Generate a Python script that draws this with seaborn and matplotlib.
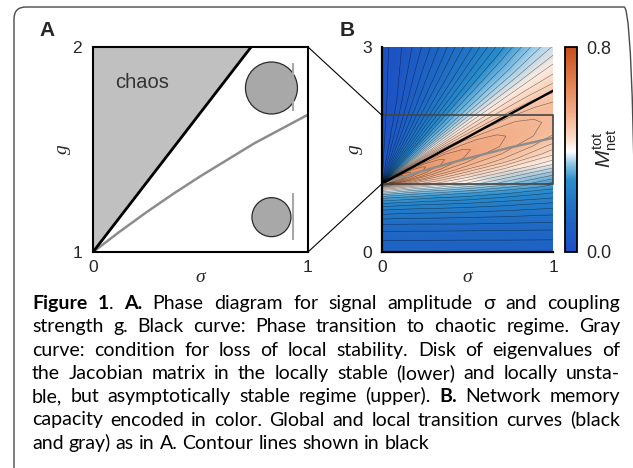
import numpy as np
import matplotlib
matplotlib.use("Agg")
import matplotlib.pyplot as plt
import seaborn as sns
from matplotlib.colors import LinearSegmentedColormap
from matplotlib.patches import Rectangle, FancyBboxPatch, ConnectionPatch
from matplotlib.transforms import IdentityTransform

# transition curves (sigma, g)
black_sigma = [0.0, 0.25, 0.5, 0.75, 1.0]
black_g = [1.0, 1.34, 1.68, 2.02, 2.36]
gray_sigma = [0.0, 0.125, 0.25, 0.375, 0.5, 0.625, 0.75, 0.875, 1.0]
gray_g = [1.0, 1.10, 1.195, 1.285, 1.37, 1.45, 1.53, 1.60, 1.67]

# eigenvalue disks in panel A: centre (sigma, g), radius in px, and the Re = 1 bars
disk_sigma = [0.83, 0.83]
disk_g = [1.80, 1.17]
disk_radius = [26, 19.5]
bar_sigma = [0.932, 0.930]
bar_low = [1.69, 1.06]
bar_high = [1.92, 1.29]

# memory capacity in panel B
# above g = 1: read along rays leaving (sigma=0, g=1); angle in degrees as drawn,
# radius in units of the panel width
mem_radius = [0, 0.03, 0.08, 0.18, 0.32, 0.5, 0.72, 1.0, 1.35]
upper_angle = [0, 7, 10.5, 14, 17.5, 21, 23, 25, 27.5, 30, 35, 41, 48, 56, 64, 72, 80, 90]
upper_values = [
    [0.68, 0.61, 0.54, 0.47, 0.435, 0.395, 0.347, 0.293, 0.24],    # 0  (g = 1)
    [0.74, 0.67, 0.60, 0.54, 0.50, 0.47, 0.44, 0.41, 0.39],        # 7
    [0.755, 0.675, 0.615, 0.575, 0.535, 0.51, 0.49, 0.453, 0.433],# 10.5
    [0.78, 0.70, 0.64, 0.60, 0.565, 0.54, 0.52, 0.49, 0.47],       # 14
    [0.795, 0.715, 0.655, 0.615, 0.585, 0.56, 0.54, 0.513, 0.493], # 17.5
    [0.80, 0.72, 0.66, 0.62, 0.59, 0.565, 0.545, 0.52, 0.50],      # 21
    [0.79, 0.715, 0.655, 0.615, 0.585, 0.561, 0.541, 0.517, 0.497],# 23
    [0.76, 0.70, 0.64, 0.60, 0.57, 0.55, 0.53, 0.51, 0.49],        # 25
    [0.69, 0.665, 0.607, 0.567, 0.537, 0.525, 0.505, 0.494, 0.474],# 27.5
    [0.60, 0.58, 0.56, 0.53, 0.51, 0.49, 0.48, 0.47, 0.46],        # 30
    [0.46, 0.45, 0.44, 0.43, 0.42, 0.42, 0.42, 0.42, 0.42],        # 35
    [0.35, 0.35, 0.345, 0.34, 0.34, 0.34, 0.345, 0.35, 0.36],      # 41
    [0.26, 0.26, 0.26, 0.26, 0.265, 0.27, 0.275, 0.28, 0.29],      # 48
    [0.19, 0.19, 0.19, 0.19, 0.19, 0.195, 0.20, 0.205, 0.21],      # 56
    [0.13, 0.13, 0.13, 0.13, 0.13, 0.135, 0.14, 0.145, 0.15],      # 64
    [0.08, 0.08, 0.08, 0.08, 0.08, 0.085, 0.09, 0.09, 0.10],       # 72
    [0.04, 0.04, 0.04, 0.04, 0.04, 0.04, 0.045, 0.05, 0.05],       # 80
    [0.01, 0.01, 0.01, 0.01, 0.01, 0.01, 0.01, 0.01, 0.01],        # 90
]
# below g = 1: rows of g, columns at sigma = mem_radius
lower_g = [0.98, 0.95, 0.9, 0.85, 0.8, 0.7, 0.6, 0.5, 0.4, 0.3, 0.2, 0.1, 0.0]
lower_values = [
    [0.56, 0.52, 0.485, 0.445, 0.41, 0.377, 0.341, 0.298, 0.259],
    [0.47, 0.455, 0.44, 0.405, 0.382, 0.355, 0.323, 0.29, 0.251],
    [0.40, 0.391, 0.382, 0.359, 0.341, 0.323, 0.298, 0.271, 0.243],
    [0.35, 0.346, 0.337, 0.323, 0.31, 0.294, 0.279, 0.255, 0.235],
    [0.31, 0.306, 0.302, 0.294, 0.283, 0.275, 0.259, 0.243, 0.223],
    [0.255, 0.253, 0.25, 0.245, 0.241, 0.235, 0.226, 0.214, 0.204],
    [0.215, 0.214, 0.212, 0.209, 0.207, 0.204, 0.199, 0.191, 0.184],
    [0.185, 0.184, 0.183, 0.182, 0.181, 0.179, 0.176, 0.172, 0.167],
    [0.16, 0.16, 0.159, 0.158, 0.158, 0.158, 0.156, 0.154, 0.151],
    [0.14, 0.14, 0.14, 0.139, 0.139, 0.138, 0.137, 0.136, 0.136],
    [0.125, 0.125, 0.125, 0.125, 0.124, 0.124, 0.124, 0.123, 0.123],
    [0.11, 0.11, 0.11, 0.11, 0.11, 0.109, 0.109, 0.109, 0.109],
    [0.102, 0.102, 0.102, 0.102, 0.102, 0.102, 0.102, 0.102, 0.102],
]
cbar_ticks = [0.0, 0.8]
cbar_labels = ["0.0", "0.8"]

caption = [
    [("Figure 1", "bold"), (". ", "normal"), ("A.", "bold"),
     (" Phase diagram for signal amplitude σ and coupling", "normal")],
    [("strength g. Black curve: Phase transition to chaotic regime. Gray", "normal")],
    [("curve: condition for loss of local stability. Disk of eigenvalues of", "normal")],
    [("the Jacobian matrix in the locally stable (lower) and locally unsta-", "normal")],
    [("ble, but asymptotically stable regime (upper). ", "normal"), ("B.", "bold"),
     (" Network memory", "normal")],
    [("capacity encoded in color. Global and local transition curves (black", "normal")],
    [("and gray) as in A. Contour lines shown in black", "normal")],
]

W, H = 633, 468
sns.set_style("white")
plt.rcParams["font.family"] = ["Liberation Sans", "DejaVu Sans"]
plt.rcParams["mathtext.fontset"] = "custom"
plt.rcParams["mathtext.rm"] = "Liberation Sans"
plt.rcParams["mathtext.it"] = "Liberation Sans:italic"

fig = plt.figure(figsize=(W / 100, H / 100), dpi=100)
serif = dict(family=["Liberation Serif", "DejaVu Serif"], style="italic", fontsize=14)


def px_axes(left, top, right, bottom):
    return fig.add_axes([left / W, 1 - bottom / H, (right - left) / W, (bottom - top) / H])


# ---- panel A
axA = px_axes(93, 47, 308, 252)
axA.fill_between(black_sigma, black_g, 3, color="#c0c0c0", lw=0)
sns.lineplot(x=gray_sigma, y=gray_g, ax=axA, color="#8c8c8c", lw=1.8)
sns.lineplot(x=black_sigma, y=black_g, ax=axA, color="black", lw=2.0)
axA.scatter(disk_sigma, disk_g, s=[(1.44 * r) ** 2 for r in disk_radius],
            color="#a8a8a8", edgecolors="#2a2a2a", linewidths=0.9, zorder=4)
axA.vlines(bar_sigma, bar_low, bar_high, color="#a8a8a8", lw=1.5, zorder=4)
axA.text(0.102, 0.829, "chaos", transform=axA.transAxes, fontsize=14.5,
         color="#333333", ha="left", va="center")
axA.set_xlim(0, 1)
axA.set_ylim(1, 2)
axA.set_xticks([0, 0.5, 1])
axA.set_xticklabels(["0", "", "1"])
axA.set_yticks([1, 2])
axA.set_yticklabels(["1", "2"])
axA.tick_params(direction="in", length=4, width=1, labelsize=12.5, color="black")
axA.tick_params(axis="y", pad=8)
axA.tick_params(axis="x", pad=6)
for s in axA.spines.values():
    s.set_color("black")
    s.set_linewidth(1.5)
    s.set_zorder(5)
axA.set_xlabel("σ", **serif)
axA.xaxis.set_label_coords(0.5, -0.122)
axA.xaxis.label.set_va("center")
axA.set_ylabel("g", **serif)
axA.yaxis.set_label_coords(-0.142, 0.5)
axA.yaxis.label.set_va("center")

# ---- panel B
cmap = LinearSegmentedColormap.from_list("mem", [
    (0.00, "#1d4fc4"), (0.20, "#1f6cc4"), (0.35, "#2a8dcc"), (0.43, "#8cc6e6"),
    (0.49, "#ffffff"), (0.56, "#fbd9c4"), (0.68, "#f2ad86"), (0.85, "#df7a48"),
    (1.00, "#c44f1c")])

axB = px_axes(382, 47, 553, 252)
g_per_r = 2.5   # panel B: 3 g units over 205 px, 1 sigma unit over 171 px
ang = np.deg2rad(np.array(upper_angle, dtype=float))[:, None]
rad = np.array(mem_radius)[None, :]
up_x = rad * np.cos(ang)
up_y = 1 + g_per_r * rad * np.sin(ang)
up_z = np.array(upper_values)
lo_x, lo_y = np.meshgrid(mem_radius, [1.0] + lower_g)
lo_z = np.vstack([upper_values[0], lower_values])

levels = np.arange(0.02, 0.79, 0.02)
for gx, gy, gz in ((up_x, up_y, up_z), (lo_x, lo_y, lo_z)):
    mesh = axB.pcolormesh(gx, gy, gz, cmap=cmap, vmin=0, vmax=0.8, shading="gouraud")
    axB.contour(gx, gy, gz, levels=levels, colors="black", linewidths=0.4, alpha=0.5)
sns.lineplot(x=gray_sigma, y=gray_g, ax=axB, color="#8c8c8c", lw=1.7)
sns.lineplot(x=black_sigma, y=black_g, ax=axB, color="black", lw=1.7)
axB.add_patch(Rectangle((0, 1), 1, 1, fill=False, ec="#454545", lw=1.2, clip_on=False, zorder=5))
axB.set_xlim(0, 1)
axB.set_ylim(0, 3)
axB.set_xticks([0, 1])
axB.set_xticklabels(["0", "1"])
axB.set_yticks([0, 3])
axB.set_yticklabels(["0", "3"])
axB.tick_params(direction="in", length=4, width=1, labelsize=12.5, color="black")
axB.tick_params(axis="y", pad=7.5)
axB.tick_params(axis="x", pad=6)
for side, s in axB.spines.items():
    s.set_visible(side in ("left", "bottom"))
    s.set_color("black")
    s.set_linewidth(1.6)
    s.set_zorder(6)
axB.set_xlabel("σ", **serif)
axB.xaxis.set_label_coords(0.5, -0.122)
axB.xaxis.label.set_va("center")
axB.set_ylabel("g", **serif)
axB.yaxis.set_label_coords(-0.158, 0.5)
axB.yaxis.label.set_va("center")

# zoom lines from panel A's frame to the rectangle in B
for gv in axA.get_ylim():
    con = ConnectionPatch(xyA=(axA.get_xlim()[1], gv), coordsA=axA.transData,
                          xyB=(0, gv), coordsB=axB.transData, color="black", lw=0.8)
    fig.add_artist(con)

# ---- colour bar
cax = px_axes(565, 47, 577, 252)
cb = fig.colorbar(mesh, cax=cax, ticks=cbar_ticks)
cb.ax.set_yticklabels(cbar_labels)
cb.ax.tick_params(length=0, pad=7, labelsize=13)
cb.outline.set_linewidth(1.3)
cb.outline.set_edgecolor("black")
fig.text(605 / W, 1 - 148 / H, r"$M_{\mathrm{net}}^{\mathrm{tot}}$", rotation=90,
         ha="center", va="center", fontsize=15)

fig.text(47 / W, 1 - 30 / H, "A", fontsize=15, fontweight="bold", ha="center", va="center")
fig.text(347 / W, 1 - 30 / H, "B", fontsize=15, fontweight="bold", ha="center", va="center")

# ---- frame
fig.add_artist(FancyBboxPatch((14, -20), 622, H - 7 + 20, boxstyle="round,pad=0,rounding_size=12",
                              transform=IdentityTransform(), fill=False, ec="#4a4a4a", lw=1.0))

# ---- caption, justified
cap_font = ["Lato", "DejaVu Sans"]
cap_size = 14
renderer = fig.canvas.get_renderer()


def text_width(s, weight):
    t = fig.text(0, 0, s, fontsize=cap_size, fontweight=weight, family=cap_font)
    w = t.get_window_extent(renderer).width
    t.remove()
    return w


def split_words(runs):
    words = [[]]
    for text, weight in runs:
        for i, part in enumerate(text.split(" ")):
            if i > 0:
                words.append([])
            if part:
                words[-1].append((part, weight))
    return [w for w in words if w]


space = text_width("a a", "normal") - text_width("aa", "normal")
left, right = 32, 620
for n, runs in enumerate(caption):
    words = split_words(runs)
    widths = [[text_width(p, wt) for p, wt in word] for word in words]
    total = sum(sum(w) for w in widths)
    last = n == len(caption) - 1
    gap = space if last else (right - left - total) / (len(words) - 1)
    x = left
    y = 1 - (309 + 23.3 * n) / H
    for word, ws in zip(words, widths):
        for (p, wt), w in zip(word, ws):
            fig.text(x / W, y, p, fontsize=cap_size, fontweight=wt, family=cap_font,
                     ha="left", va="baseline", color="black")
            x += w
        x += gap

fig.savefig("out.png", dpi=100)
